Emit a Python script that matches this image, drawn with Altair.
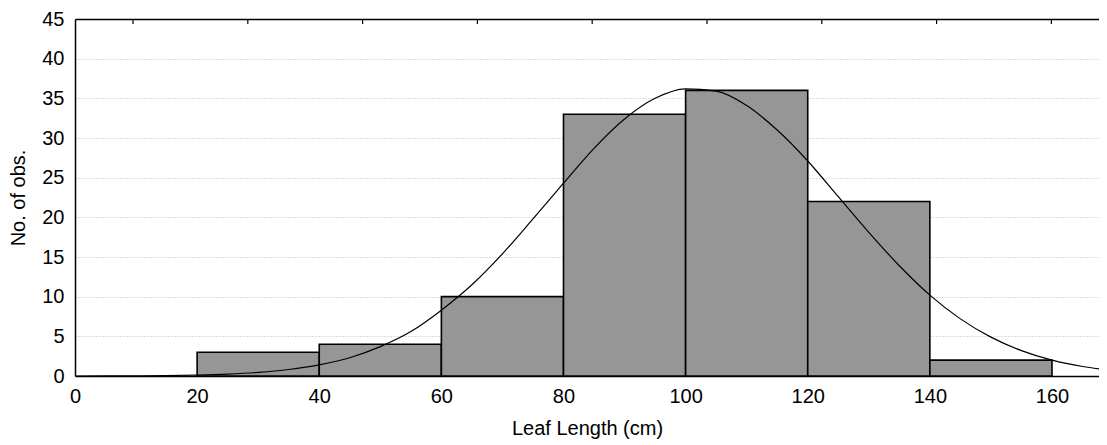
import altair as alt
import pandas as pd

# Histogram bins (cm) and counts
bin_start = [20, 40, 60, 80, 100, 120, 140]
bin_end = [40, 60, 80, 100, 120, 140, 160]
counts = [3, 4, 10, 33, 36, 22, 2]

# Fitted normal curve
curve_x = [0, 5, 10, 15, 20, 25, 30, 35, 40, 45, 50, 55, 60, 65, 70, 75, 80, 85,
           90, 95, 100, 105, 110, 115, 120, 125, 130, 135, 140, 145, 150, 155,
           160, 165, 170]
curve_y = [0.0, 0.01, 0.03, 0.06, 0.12, 0.24, 0.46, 0.82, 1.4, 2.3, 3.7, 5.6, 8.3,
           11.5, 15.4, 19.8, 24.3, 28.7, 32.4, 35.0, 36.2, 35.9, 34.1, 31.0, 27.1,
           22.6, 18.1, 13.9, 10.2, 7.2, 4.9, 3.2, 2.0, 1.2, 0.7]

y_ticks = [0, 5, 10, 15, 20, 25, 30, 35, 40, 45]
x_ticks = [0, 20, 40, 60, 80, 100, 120, 140, 160]
top_ticks = [9.5, 28.3, 47.1, 65.9, 84.7, 103.5, 122.3, 141.1, 159.9]

bars = pd.DataFrame({"start": bin_start, "end": bin_end, "count": counts})
curve = pd.DataFrame({"x": curve_x, "y": curve_y})
tops = pd.DataFrame({"x": top_ticks})

FONT = "Liberation Sans"
xscale = alt.Scale(domain=[0, 167.7], nice=False, zero=False)
yscale = alt.Scale(domain=[0, 45], nice=False)


def y_axis():
    return alt.Axis(values=y_ticks, title="No. of obs.", grid=True,
                    gridColor="#b8b8b8", gridDash=[1, 2], gridWidth=1,
                    ticks=False, tickSize=0, labelPadding=11, labelOverlap=False,
                    titlePadding=13, domainColor="black", domainWidth=1.5)


bar_layer = alt.Chart(bars).mark_rect(
    fill="#969696", stroke="black", strokeWidth=1.6
).encode(
    x=alt.X("start:Q", scale=xscale,
            axis=alt.Axis(values=x_ticks, title="Leaf Length (cm)", grid=False,
                          ticks=False, tickSize=0, labelPadding=10,
                          labelOverlap=False, titlePadding=12,
                          domainColor="black", domainWidth=1.5,
                          labelFlush=False)),
    x2="end:Q",
    y=alt.Y("count:Q", scale=yscale, axis=y_axis()),
    y2=alt.datum(0),
)

line_layer = alt.Chart(curve).mark_line(
    color="black", strokeWidth=1.2, interpolate="monotone", clip=True
).encode(
    x=alt.X("x:Q", scale=xscale, axis=None),
    y=alt.Y("y:Q", scale=yscale, axis=y_axis()),
)

top_axis = alt.Chart(tops).mark_rule(color="black", strokeWidth=1.2).encode(
    x=alt.X("x:Q", scale=xscale,
            axis=alt.Axis(orient="top", labels=False, ticks=False, title=None,
                          grid=False, domainColor="black", domainWidth=1.5)),
    y=alt.value(0),
    y2=alt.value(5),
)

chart = alt.layer(bar_layer, line_layer, top_axis).resolve_axis(
    x="independent"
).properties(
    width=1024, height=357,
    autosize=alt.AutoSizeParams(type="none"),
    padding={"left": 67, "top": 11, "right": 0, "bottom": 69},
).configure_view(stroke=None).configure_axis(
    labelFont=FONT, titleFont=FONT, labelFontSize=20, titleFontSize=20,
    labelColor="black", titleColor="black", titleFontWeight="normal",
)

chart.save("out.html", embed_options={"renderer": "svg", "actions": False})
